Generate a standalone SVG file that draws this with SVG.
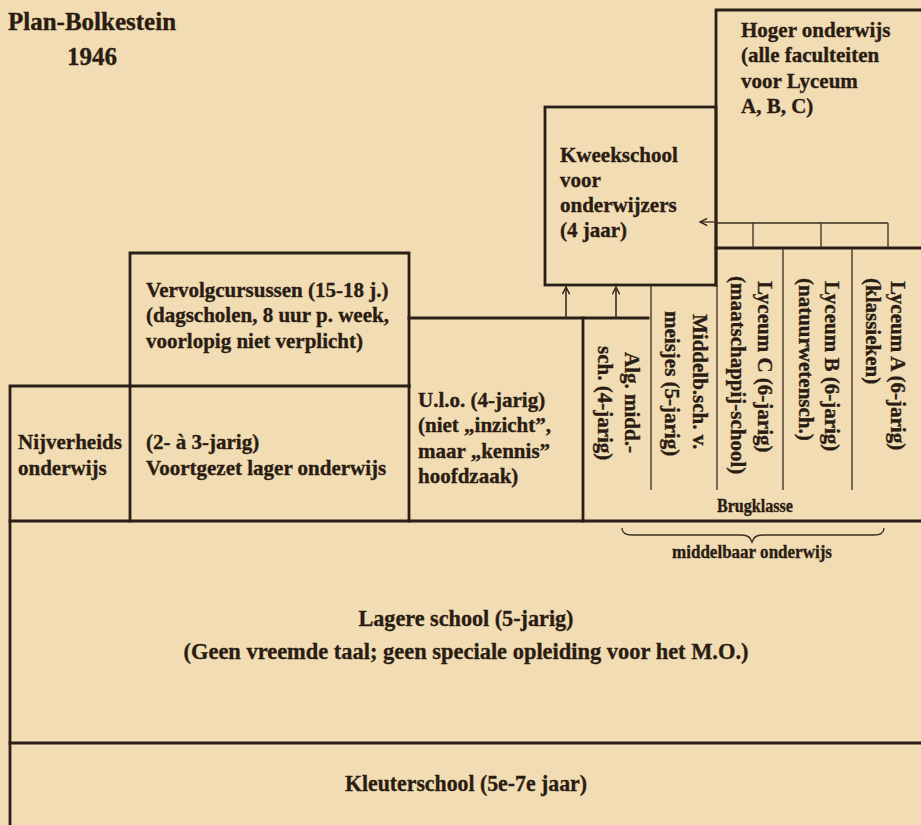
<svg xmlns="http://www.w3.org/2000/svg" width="921" height="825" viewBox="0 0 921 825">
<defs>
<style>
.t{font-family:"Liberation Serif","Times New Roman",serif;font-weight:bold;fill:#2a1c12;stroke:#2a1c12;stroke-width:0.35;font-size:21px}
.title{font-size:25px}
.c{text-anchor:middle}
.thick{stroke:#2a1f18;stroke-width:2.8;fill:none;stroke-linecap:square}
.thin{stroke:#3a2c20;stroke-width:1.3;fill:none}
</style>
<marker id="ah" viewBox="0 0 10 10" refX="9" refY="5" markerWidth="9" markerHeight="9" orient="auto" markerUnits="userSpaceOnUse">
<path d="M1,1 L9,5 L1,9" fill="none" stroke="#2a1f18" stroke-width="1.6"/>
</marker>
</defs>
<rect width="921" height="825" fill="#f1dcb3"/>
<g id="title">
<text class="t title" x="8" y="30">Plan-Bolkestein</text>
<text class="t title" x="67" y="65">1946</text>
</g>
<g id="hoger">
<path class="thick" d="M921,10 H716 V285"/>
<path class="thick" d="M716,248 H921"/>
<text class="t" x="741" y="37">Hoger onderwijs</text>
<text class="t" x="741" y="62">(alle faculteiten</text>
<text class="t" x="741" y="88">voor Lyceum</text>
<text class="t" x="741" y="113">A, B, C)</text>
</g>
<g id="kweekschool">
<rect class="thick" x="545" y="107" width="171" height="178"/>
<text class="t" x="560" y="162">Kweekschool</text>
<text class="t" x="560" y="187">voor</text>
<text class="t" x="560" y="212">onderwijzers</text>
<text class="t" x="560" y="237">(4 jaar)</text>
</g>
<g id="vervolgcursussen">
<path class="thick" d="M130,386 V253 H409 V386"/>
<text class="t" x="146" y="297">Vervolgcursussen (15-18 j.)</text>
<text class="t" x="146" y="322">(dagscholen, 8 uur p. week,</text>
<text class="t" x="146" y="348">voorlopig niet verplicht)</text>
</g>
<g id="nijverheids">
<path class="thick" d="M10,825 V386 H409"/>
<path class="thick" d="M130,386 V521"/>
<text class="t" x="18" y="449">Nijverheids</text>
<text class="t" x="18" y="475">onderwijs</text>
</g>
<g id="voortgezet">
<path class="thick" d="M409,386 V521"/>
<text class="t" x="146" y="449">(2- à 3-jarig)</text>
<text class="t" x="146" y="475">Voortgezet lager onderwijs</text>
</g>
<g id="ulo">
<path class="thick" d="M409,318 H648"/>
<path class="thick" d="M583,318 V521"/>
<text class="t" x="418" y="407">U.l.o. (4-jarig)</text>
<text class="t" x="418" y="432">(niet „inzicht”,</text>
<text class="t" x="418" y="458">maar „kennis”</text>
<text class="t" x="418" y="483">hoofdzaak)</text>
</g>
<g id="alg-midd">
<text class="t" transform="translate(625,352) rotate(90)">Alg. midd.-</text>
<text class="t" transform="translate(598,346) rotate(90)">sch. (4-jarig)</text>
</g>
<g id="middelb-meisjes">
<path class="thin" d="M651,286 V490"/>
<text class="t" transform="translate(693,314) rotate(90)">Middelb.sch. v.</text>
<text class="t" transform="translate(665,311) rotate(90)">meisjes (5-jarig)</text>
</g>
<g id="lyceum-c">
<path class="thin" d="M717,285 V490"/>
<text class="t" transform="translate(758,281) rotate(90)">Lyceum C (6-jarig)</text>
<text class="t" transform="translate(731,276) rotate(90)">(maatschappij-school)</text>
</g>
<g id="lyceum-b">
<path class="thin" d="M783,248 V490"/>
<text class="t" transform="translate(825,281) rotate(90)">Lyceum B (6-jarig)</text>
<text class="t" transform="translate(799,278) rotate(90)">(natuurwetensch.)</text>
</g>
<g id="lyceum-a">
<path class="thin" d="M852,248 V490"/>
<text class="t" transform="translate(891,281) rotate(90)">Lyceum A (6-jarig)</text>
<text class="t" transform="translate(866,278) rotate(90)">(klassieken)</text>
</g>
<g id="brugklasse">
<text class="t c" x="755" y="512" style="font-size:18px" textLength="76" lengthAdjust="spacingAndGlyphs">Brugklasse</text>
</g>
<g id="middelbaar">
<path class="thin" d="M622,528 Q622,535 632,535 L742,535 Q750,535 752,542 Q754,535 762,535 L874,535 Q884,535 884,528"/>
<text class="t c" x="752" y="558" style="font-size:19px" textLength="160" lengthAdjust="spacingAndGlyphs">middelbaar onderwijs</text>
</g>
<g id="lagere-school">
<path class="thick" d="M10,521 H921"/>
<text class="t c" x="466" y="626" style="font-size:24px" textLength="215" lengthAdjust="spacingAndGlyphs">Lagere school (5-jarig)</text>
<text class="t c" x="466" y="659" style="font-size:24px" textLength="565" lengthAdjust="spacingAndGlyphs">(Geen vreemde taal; geen speciale opleiding voor het M.O.)</text>
</g>
<g id="kleuterschool">
<path class="thick" d="M10,743 H921"/>
<text class="t c" x="466" y="791" style="font-size:24px" textLength="242" lengthAdjust="spacingAndGlyphs">Kleuterschool (5e-7e jaar)</text>
</g>
<g id="connectors">
<path class="thin" d="M888,223 H717 M753,223 V248 M821,223 V248 M888,223 V248"/>
<path class="thin" d="M717,222 H700" marker-end="url(#ah)"/>
<path class="thin" d="M566,318 V287" marker-end="url(#ah)" style="stroke-width:1.6"/>
<path class="thin" d="M616,318 V287" marker-end="url(#ah)" style="stroke-width:1.6"/>
</g>
</svg>
